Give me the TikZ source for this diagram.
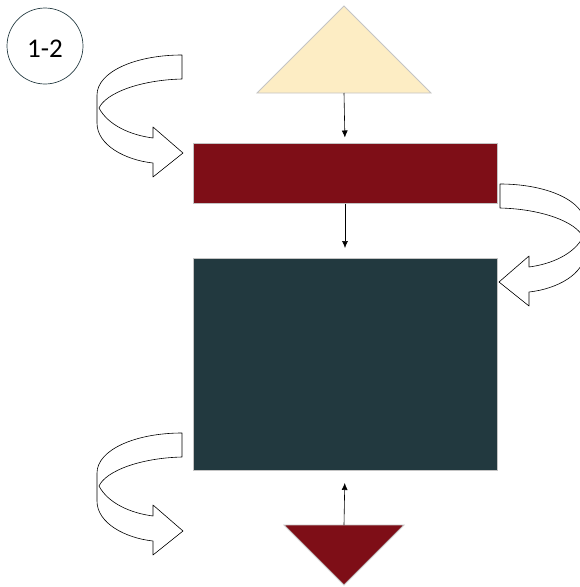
\documentclass[tikz,border=0pt]{standalone}
\usepackage{fontspec}
\setmainfont{Carlito}
\usetikzlibrary{shapes.geometric,arrows.meta}

\definecolor{sand}{RGB}{253,237,196}
\definecolor{wine}{RGB}{126,14,23}
\definecolor{slate}{RGB}{34,57,63}
\definecolor{rim}{RGB}{196,196,196}
\definecolor{ring}{RGB}{40,62,68}

\tikzset{
    slab/.style={draw=rim, line width=0.8pt, inner sep=0pt, outer sep=0pt},
    wedge/.style={isosceles triangle, isosceles triangle apex angle=90, draw=rim, line width=0.8pt, inner sep=0pt, outer sep=0pt},
    feed/.style={-{Latex[length=7pt,width=6pt]}, line width=0.6pt},
    turnarrow/.pic={
        \draw[fill=white, line width=0.6pt, line join=round]
            (0,0) .. controls (-47,0) and (-85,17) .. (-85,40) -- (-85,68)
            .. controls (-85,90) and (-57,105) .. (-29,108) -- (-29,122) -- (1,98) -- (-29,72) -- (-29,83)
            .. controls (-52,80) and (-74,70) .. (-83,53)
            .. controls (-76,38) and (-42,25) .. (0,24) -- cycle;
    }
}

\begin{document}
\begin{tikzpicture}[x=1pt, y=-1pt]
        \useasboundingbox (0,0) rectangle (580,587);

        \node[draw=ring, line width=0.7pt, circle, minimum size=76pt, inner sep=0pt,
              label={[font=\fontsize{27}{31}\selectfont, yshift=-3pt]center:1-2}] (tag) at (45,46) {};

        \node[wedge, fill=sand, minimum size=87pt, shape border rotate=90, anchor=apex] (peak) at (344,6) {};
        \node[slab, fill=wine, minimum width=304pt, minimum height=60pt] (band) at (345,173.5) {};
        \node[slab, fill=slate, minimum width=304pt, minimum height=212pt] (block) at (345,364) {};
        \node[wedge, fill=wine, minimum size=60pt, shape border rotate=270, anchor=apex] (drop) at (344,585) {};

        \draw[feed, shorten >=6pt]  (peak.lower side) -- (band.north);
        \draw[feed, shorten >=10pt] (band.south) -- (block.north);
        \draw[feed, shorten >=13pt] (drop.lower side) -- (block.south);

        \pic at (182,55) {turnarrow};
        \pic[xscale=-1] at (500,184) {turnarrow};
        \pic at (182,433) {turnarrow};
    \end{tikzpicture}
\end{document}
